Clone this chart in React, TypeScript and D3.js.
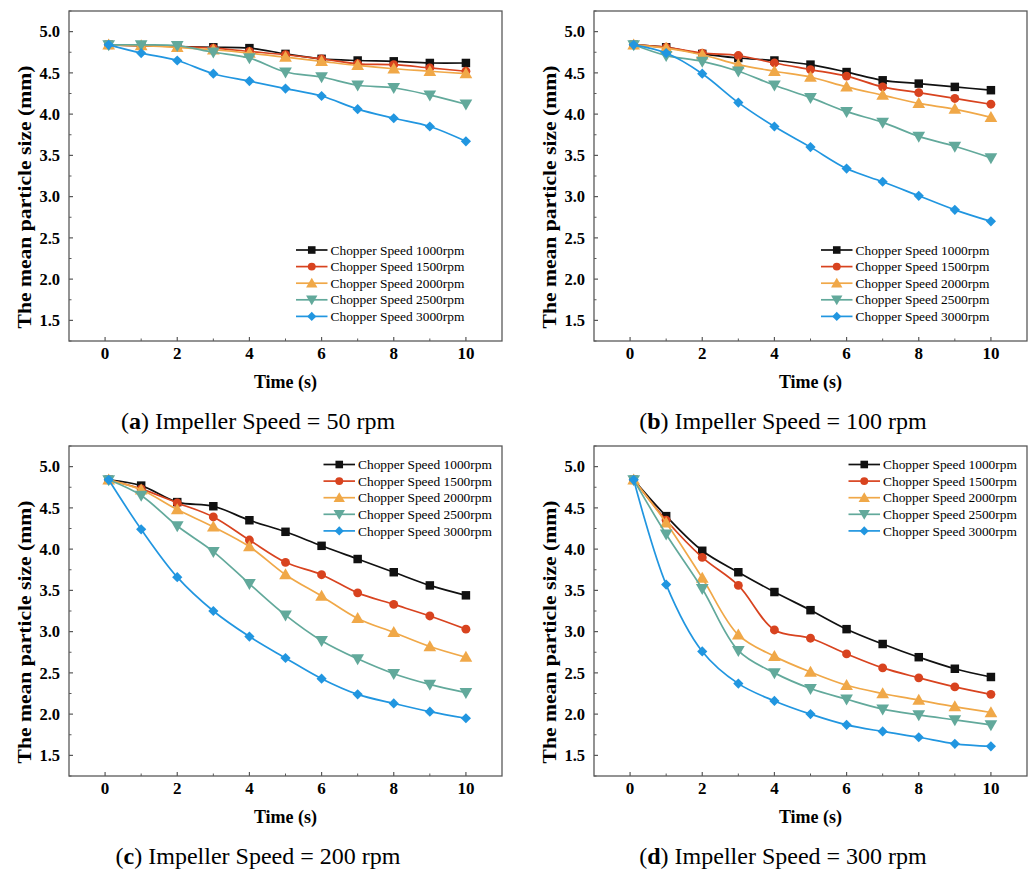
import React from "react";
import * as d3 from "d3";

const times = [0.1, 1, 2, 3, 4, 5, 6, 7, 8, 9, 10];
const seriesNames = [
  "Chopper Speed 1000rpm",
  "Chopper Speed 1500rpm",
  "Chopper Speed 2000rpm",
  "Chopper Speed 2500rpm",
  "Chopper Speed 3000rpm",
];
const xTicks = [0, 2, 4, 6, 8, 10];
const yTicks = [1.5, 2.0, 2.5, 3.0, 3.5, 4.0, 4.5, 5.0];

// (a) Impeller Speed = 50 rpm
const a1000 = [4.84, 4.83, 4.82, 4.81, 4.80, 4.73, 4.67, 4.65, 4.64, 4.62, 4.62];
const a1500 = [4.84, 4.83, 4.82, 4.80, 4.76, 4.72, 4.67, 4.61, 4.60, 4.56, 4.52];
const a2000 = [4.84, 4.83, 4.81, 4.78, 4.74, 4.69, 4.64, 4.59, 4.55, 4.52, 4.49];
const a2500 = [4.84, 4.84, 4.83, 4.75, 4.68, 4.51, 4.45, 4.35, 4.32, 4.23, 4.12];
const a3000 = [4.84, 4.74, 4.65, 4.49, 4.40, 4.31, 4.22, 4.06, 3.95, 3.85, 3.67];

// (b) Impeller Speed = 100 rpm
const b1000 = [4.84, 4.81, 4.73, 4.68, 4.65, 4.60, 4.51, 4.41, 4.37, 4.33, 4.29];
const b1500 = [4.84, 4.81, 4.74, 4.71, 4.62, 4.54, 4.46, 4.33, 4.26, 4.19, 4.12];
const b2000 = [4.84, 4.80, 4.72, 4.60, 4.52, 4.45, 4.33, 4.23, 4.13, 4.06, 3.96];
const b2500 = [4.84, 4.71, 4.64, 4.52, 4.35, 4.20, 4.03, 3.90, 3.73, 3.61, 3.47];
const b3000 = [4.84, 4.74, 4.49, 4.14, 3.85, 3.60, 3.34, 3.18, 3.01, 2.84, 2.70];

// (c) Impeller Speed = 200 rpm
const c1000 = [4.84, 4.77, 4.57, 4.52, 4.35, 4.21, 4.04, 3.88, 3.72, 3.56, 3.44];
const c1500 = [4.84, 4.73, 4.56, 4.39, 4.11, 3.84, 3.69, 3.47, 3.33, 3.19, 3.03];
const c2000 = [4.84, 4.72, 4.48, 4.27, 4.03, 3.69, 3.43, 3.16, 2.99, 2.82, 2.69];
const c2500 = [4.84, 4.65, 4.28, 3.97, 3.58, 3.20, 2.89, 2.67, 2.49, 2.36, 2.26];
const c3000 = [4.84, 4.24, 3.66, 3.25, 2.94, 2.68, 2.43, 2.24, 2.13, 2.03, 1.95];

// (d) Impeller Speed = 300 rpm
const d1000 = [4.84, 4.40, 3.98, 3.72, 3.48, 3.26, 3.03, 2.85, 2.69, 2.55, 2.45];
const d1500 = [4.84, 4.35, 3.90, 3.56, 3.02, 2.92, 2.73, 2.56, 2.44, 2.33, 2.24];
const d2000 = [4.84, 4.32, 3.65, 2.96, 2.70, 2.51, 2.35, 2.25, 2.17, 2.09, 2.02];
const d2500 = [4.84, 4.18, 3.52, 2.77, 2.50, 2.31, 2.18, 2.06, 1.99, 1.93, 1.87];
const d3000 = [4.84, 3.57, 2.76, 2.37, 2.16, 2.00, 1.87, 1.79, 1.72, 1.64, 1.61];

const colors = ["#111111", "#d8431f", "#f0a848", "#62a99b", "#2196e0"];
const symbols = [d3.symbolSquare, d3.symbolCircle, d3.symbolTriangle, d3.symbolTriangle, d3.symbolSquare];
const symbolSizes = [72, 62, 70, 70, 52];
const symbolRot = [0, 0, 0, 180, 45];
const symbolDy = [0, 0, 1, -1, 0];

const panels = [
  { letter: "a", rest: ") Impeller Speed = 50 rpm", data: [a1000, a1500, a2000, a2500, a3000], ox: 0, oy: 0, legend: "low" },
  { letter: "b", rest: ") Impeller Speed = 100 rpm", data: [b1000, b1500, b2000, b2500, b3000], ox: 525, oy: 0, legend: "low" },
  { letter: "c", rest: ") Impeller Speed = 200 rpm", data: [c1000, c1500, c2000, c2500, c3000], ox: 0, oy: 435, legend: "high" },
  { letter: "d", rest: ") Impeller Speed = 300 rpm", data: [d1000, d1500, d2000, d2500, d3000], ox: 525, oy: 435, legend: "high" },
];

const FONT = "'Liberation Serif', 'Times New Roman', serif";
const frameL = 69, frameR = 502, frameT = 11, frameB = 341;

function Panel({ p }: { p: any }) {
  const x = d3.scaleLinear().domain([-1, 11]).range([frameL, frameR]);
  const y = d3.scaleLinear().domain([1.25, 5.25]).range([frameB, frameT]);
  const line = d3
    .line<number>()
    .x((_, i) => x(times[i]))
    .y((v) => y(v))
    .curve(d3.curveCatmullRom.alpha(0.5));
  const minorY = d3.range(1.25, 5.26, 0.25).filter((v) => Math.abs((v * 2) % 1) > 0.01);
  const minorX = [1, 3, 5, 7, 9];
  const legTop = p.legend === "low" ? 239 : 18.5;
  const legX0 = p.legend === "low" ? 227 : 254.5;
  const legLen = 31.5;
  const legStep = 16.6;
  return (
    <g transform={`translate(${p.ox},${p.oy})`}>
      <rect x={frameL} y={frameT} width={frameR - frameL} height={frameB - frameT} fill="none" stroke="#595959" strokeWidth={1.3} />
      {yTicks.map((t) => (
        <g key={"y" + t}>
          <line x1={frameL} x2={frameL + 4} y1={y(t)} y2={y(t)} stroke="#595959" strokeWidth={1.2} />
          <text x={frameL - 9} y={y(t)} dy="0.35em" textAnchor="end" fontFamily={FONT} fontWeight="bold" fontSize={16.5}>
            {t.toFixed(1)}
          </text>
        </g>
      ))}
      {minorY.map((t) => (
        <line key={"my" + t} x1={frameL} x2={frameL + 2.5} y1={y(t)} y2={y(t)} stroke="#595959" strokeWidth={1} />
      ))}
      {xTicks.map((t) => (
        <g key={"x" + t}>
          <line x1={x(t)} x2={x(t)} y1={frameB} y2={frameB - 4} stroke="#595959" strokeWidth={1.2} />
          <text x={x(t)} y={frameB + 18} textAnchor="middle" fontFamily={FONT} fontWeight="bold" fontSize={17}>
            {t}
          </text>
        </g>
      ))}
      {minorX.map((t) => (
        <line key={"mx" + t} x1={x(t)} x2={x(t)} y1={frameB} y2={frameB - 2.5} stroke="#595959" strokeWidth={1} />
      ))}
      <text x={(frameL + frameR) / 2} y={frameB + 47} textAnchor="middle" fontFamily={FONT} fontWeight="bold" fontSize={18}>
        Time (s)
      </text>
      <text
        transform={`translate(${frameL - 38},197) rotate(-90)`}
        textAnchor="middle"
        fontFamily={FONT}
        fontWeight="bold"
        fontSize={19}
        textLength={263}
        lengthAdjust="spacingAndGlyphs"
      >
        The mean particle size (mm)
      </text>
      {p.data.map((vals: number[], si: number) => (
        <g key={"s" + si}>
          <path d={line(vals) || ""} fill="none" stroke={colors[si]} strokeWidth={1.7} />
          {vals.map((v, i) => (
            <path
              key={i}
              d={d3.symbol().type(symbols[si]).size(symbolSizes[si])() || ""}
              transform={`translate(${x(times[i])},${y(v) + symbolDy[si]}) rotate(${symbolRot[si]})`}
              fill={colors[si]}
            />
          ))}
        </g>
      ))}
      {seriesNames.map((name, si) => {
        const ly = frameT + legTop + si * legStep;
        return (
          <g key={"l" + si}>
            <line x1={frameL + legX0} x2={frameL + legX0 + legLen} y1={ly} y2={ly} stroke={colors[si]} strokeWidth={1.7} />
            <path
              d={d3.symbol().type(symbols[si]).size(symbolSizes[si] * 0.8)() || ""}
              transform={`translate(${frameL + legX0 + legLen / 2},${ly + symbolDy[si]}) rotate(${symbolRot[si]})`}
              fill={colors[si]}
            />
            <text x={frameL + legX0 + legLen + 3} y={ly} dy="0.35em" fontFamily={FONT} fontSize={13.4}>
              {name}
            </text>
          </g>
        );
      })}
      <text x={frameL + 189} y={429} textAnchor="middle" fontFamily={FONT} fontSize={24}>
        <tspan>(</tspan>
        <tspan fontWeight="bold">{p.letter}</tspan>
        <tspan>{p.rest}</tspan>
      </text>
    </g>
  );
}

export default function App() {
  return (
    <svg
      width={1035}
      height={872}
      style={{ position: "absolute", left: 0, top: 0, background: "#fff" }}
      xmlns="http://www.w3.org/2000/svg"
    >
      <rect width={1035} height={872} fill="#fff" />
      {panels.map((p) => (
        <Panel key={p.letter} p={p} />
      ))}
    </svg>
  );
}
